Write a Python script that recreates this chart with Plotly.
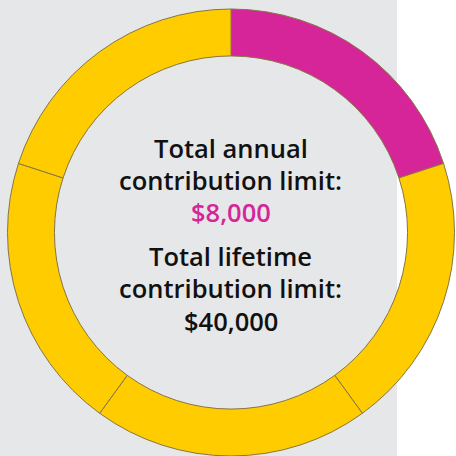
import plotly.graph_objects as go

segments = ["Year 1", "Year 2", "Year 3", "Year 4", "Year 5"]
values = [8000, 8000, 8000, 8000, 8000]
colors = ["#D62598", "#FFCC00", "#FFCC00", "#FFCC00", "#FFCC00"]

lines = ["Total annual", "contribution limit:", "$8,000",
         "Total lifetime", "contribution limit:", "$40,000"]
line_colors = ["#111111", "#111111", "#D62598", "#111111", "#111111", "#111111"]
line_y_px = [148, 180, 212, 256, 288, 321]

W = H = 456
fig = go.Figure()
fig.add_trace(go.Pie(
    labels=segments, values=values, sort=False, direction="clockwise",
    hole=0.79, textinfo="none", hoverinfo="skip", showlegend=False,
    marker=dict(colors=colors, line=dict(color="#857545", width=1)),
    domain=dict(x=[7.5 / W, 454.5 / W], y=[0, (H - 9) / H]),
))
fig.add_shape(type="rect", xref="paper", yref="paper", x0=0, x1=397 / W, y0=0, y1=1,
              fillcolor="#E6E7E8", line=dict(width=0), layer="below")
for t, c, y in zip(lines, line_colors, line_y_px):
    fig.add_annotation(text=t, x=231 / W, y=1 - y / H, xref="paper", yref="paper",
                       showarrow=False, xanchor="center", yanchor="middle",
                       font=dict(family="Open Sans", size=25.5, color=c, weight=600))
fig.update_layout(width=W, height=H, margin=dict(l=0, r=0, t=0, b=0),
                  paper_bgcolor="white", plot_bgcolor="white")
fig.write_html("out.html", config={"displayModeBar": False},
               post_script="document.body.style.margin='0';")
